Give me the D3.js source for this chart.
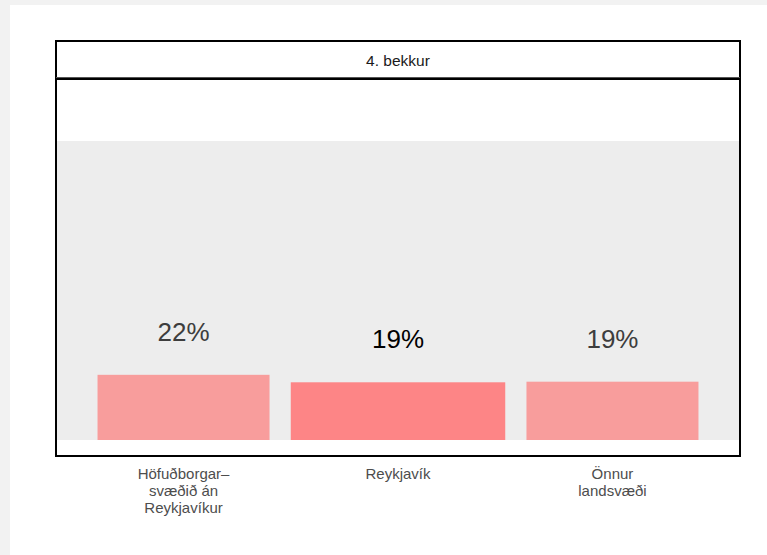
<!DOCTYPE html>
<html><head><meta charset="utf-8">
<script src="https://cdn.jsdelivr.net/npm/d3@7"></script>
<style>html,body{margin:0;padding:0;background:#f2f2f2;}svg{display:block;}</style>
</head><body>
<svg id="c" width="767" height="555"></svg>
<script>
const categories = [["Höfuðborgar–","svæðið án","Reykjavíkur"],["Reykjavík"],["Önnur","landsvæði"]];
const values = [21.8, 19.3, 19.5];
const labels = ["22%", "19%", "19%"];
const highlight = [false, true, false];
const facet = "4. bekkur";

const svg = d3.select("#c");
svg.append("rect").attr("x",10).attr("y",5).attr("width",757).attr("height",550).attr("fill","#ffffff");

const L = 57, R = 739, T = 141, B = 440;
const x = d3.scaleBand().domain(d3.range(categories.length)).range([L, R]).paddingInner(0.198).paddingOuter(0.189);
const y = d3.scaleLinear().domain([0, 100]).range([B, T]);

svg.append("rect").attr("x",L).attr("y",y(100)).attr("width",R-L).attr("height",y(0)-y(100)).attr("fill","#ededed");

const step = x.step();
svg.selectAll("rect.bar").data(values).enter().append("rect").attr("class","bar")
  .attr("x",(d,i)=> highlight[i] ? x(i)+x.bandwidth()/2-step/2 : x(i))
  .attr("width",(d,i)=> highlight[i] ? step : x.bandwidth())
  .attr("y",d=>y(d)).attr("height",d=>y(0)-y(d))
  .attr("fill",(d,i)=> highlight[i] ? "#fd8586" : "#f89d9c");

svg.selectAll("text.val").data(values).enter().append("text").attr("class","val")
  .attr("x",(d,i)=>x(i)+x.bandwidth()/2).attr("y",d=>y(d)-34)
  .attr("text-anchor","middle").attr("font-family","Liberation Sans, Arial, sans-serif")
  .attr("font-size",26).attr("fill",(d,i)=> highlight[i] ? "#000000" : "#3d3d3d")
  .text((d,i)=>labels[i]);

// frame
svg.append("rect").attr("x",56).attr("y",41).attr("width",684).attr("height",415).attr("fill","none").attr("stroke","#000").attr("stroke-width",2);
svg.append("line").attr("x1",56).attr("x2",740).attr("y1",77.5).attr("y2",77.5).attr("stroke","#555").attr("stroke-width",1);
svg.append("line").attr("x1",56).attr("x2",740).attr("y1",79).attr("y2",79).attr("stroke","#000").attr("stroke-width",2);
svg.append("text").attr("x",(56+740)/2).attr("y",65.5).attr("text-anchor","middle")
  .attr("font-family","Liberation Sans, Arial, sans-serif").attr("font-size",15.5).attr("fill","#1a1a1a").text(facet);

// x labels
const g = svg.selectAll("text.cat").data(categories).enter().append("text").attr("class","cat")
  .attr("text-anchor","middle").attr("font-family","Liberation Sans, Arial, sans-serif")
  .attr("font-size",15).attr("fill","#4d4d4d")
  .attr("transform",(d,i)=>`translate(${x(i)+x.bandwidth()/2},479)`);
g.selectAll("tspan").data(d=>d).enter().append("tspan").attr("x",0).attr("dy",(d,j)=> j===0 ? 0 : 17).text(d=>d);
</script>
</body></html>
